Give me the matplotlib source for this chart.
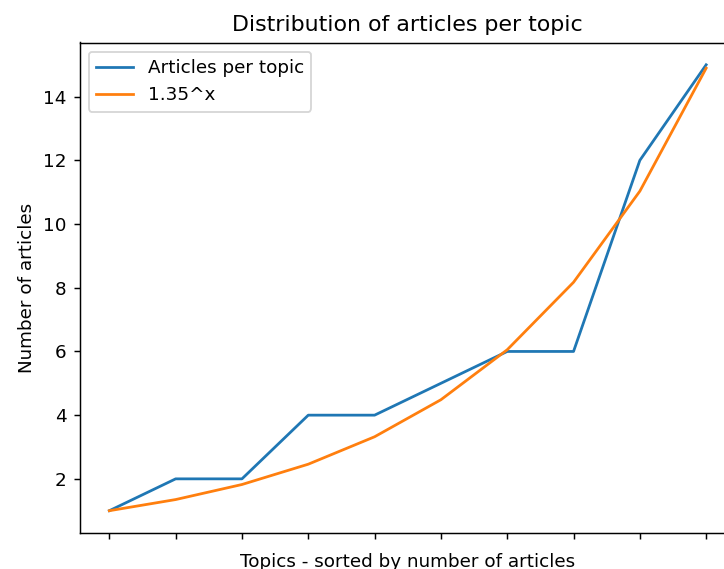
import matplotlib
matplotlib.use("Agg")
import matplotlib.pyplot as plt
import numpy as np

topics = list(range(10))
articles_per_topic = [1, 2, 2, 4, 4, 5, 6, 6, 12, 15]
exp_base = 1.35
exp_curve = [exp_base ** x for x in topics]

dpi = 132.5
fig = plt.figure(figsize=(724 / dpi, 569 / dpi), dpi=dpi)
ax = fig.add_axes([79.5 / 724, 36 / 569, (736 - 79.5) / 724, (533 - 42.5) / 569])
ax.plot(topics, articles_per_topic, label="Articles per topic")
ax.plot(topics, exp_curve, label="1.35^x")
ax.set_xticks(topics)
ax.set_xticklabels([])
ax.set_title("Distribution of articles per topic")
ax.set_xlabel("Topics - sorted by number of articles")
ax.set_ylabel("Number of articles")
ax.legend(loc="upper left")
fig.savefig("out.png", dpi=dpi)
